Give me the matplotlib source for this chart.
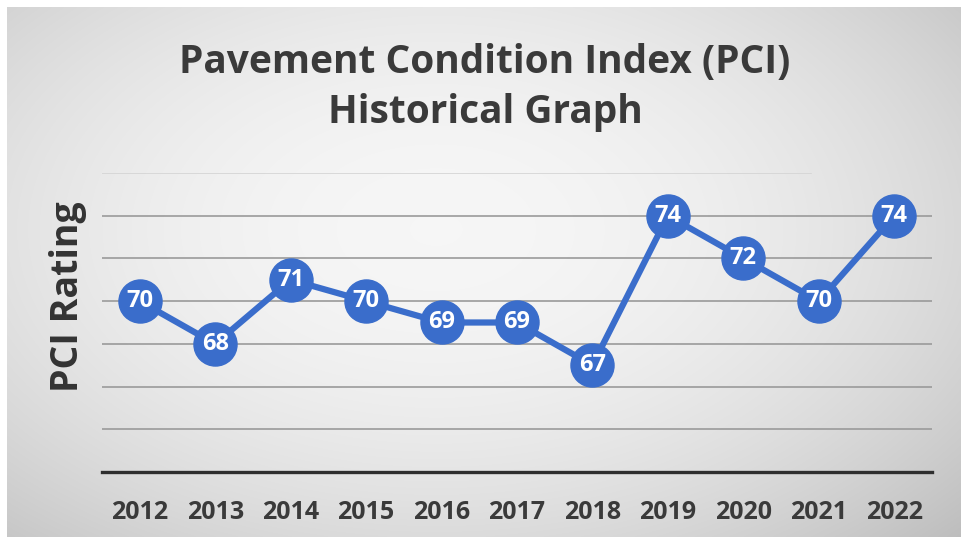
import numpy as np
import matplotlib
matplotlib.use("Agg")
import matplotlib.pyplot as plt

years = ["2012", "2013", "2014", "2015", "2016", "2017", "2018", "2019", "2020", "2021", "2022"]
pci = [70, 68, 71, 70, 69, 69, 67, 74, 72, 70, 74]
grid_levels = [64, 66, 68, 70, 72, 74]

W, H = 961, 537
fig = plt.figure(figsize=(W / 100, H / 100), dpi=100)
fig.patch.set_facecolor("white")

# background gradient panel
bg = fig.add_axes([7 / W, 0, 1 - 7 / W, 1 - 7 / H])
bg.set_axis_off()
yy, xx = np.mgrid[0:1:300j, 0:1:500j]
r = np.sqrt(((xx - 0.45) / 0.72) ** 2 + ((yy - 0.42) / 0.8) ** 2)
val = 0.965 - 0.2 * np.clip(r, 0, 1.2) ** 2.0
img = np.dstack([val, val, val])
bg.imshow(img, aspect="auto", extent=[0, 1, 0, 1], origin="upper", interpolation="bilinear")
bg.set_xlim(0, 1)
bg.set_ylim(0, 1)

ax = fig.add_axes([102 / W, 65 / H, 830 / W, 299 / H])
ax.set_facecolor("none")
x = np.arange(len(years))
ax.set_xlim(-0.5, len(years) - 0.5)
ax.set_ylim(62, 76)

for g in grid_levels:
    ax.axhline(g, color="#9a9a9a", lw=1.2, zorder=1)
ax.plot([-0.5, 8.9], [76, 76], color="#d4d4d4", lw=1.2, zorder=1)
ax.axhline(62, color="#2e2e2e", lw=2.4, zorder=2, clip_on=False)

ax.plot(x, pci, color="#3a6dcb", lw=4.5, zorder=3, solid_capstyle="round")
ax.plot(x, pci, "o", ms=31, color="#3a6dcb", mec="#3a6dcb", zorder=4)
for xi, v in zip(x, pci):
    ax.text(xi, v, str(v), ha="center", va="center", color="white",
            fontsize=17, fontweight="bold", family="Open Sans", zorder=5)

for s in ax.spines.values():
    s.set_visible(False)
ax.set_yticks([])
ax.set_xticks(x)
ax.set_xticklabels(years, fontsize=18, fontweight="bold", family="Open Sans", color="#3a3a3a")
ax.tick_params(axis="x", length=0, pad=20)

fig.text(485 / W, 1 - 63 / H, "Pavement Condition Index (PCI)", ha="center", va="center",
         fontsize=28, fontweight="bold", family="Open Sans", color="#3a3a3a")
fig.text(485 / W, 1 - 112 / H, "Historical Graph", ha="center", va="center",
         fontsize=28, fontweight="bold", family="Open Sans", color="#3a3a3a")
fig.text(68 / W, 1 - 297 / H, "PCI Rating", ha="center", va="center", rotation=90,
         fontsize=27, fontweight="bold", family="Open Sans", color="#333333")

fig.savefig("out.png", dpi=100)
